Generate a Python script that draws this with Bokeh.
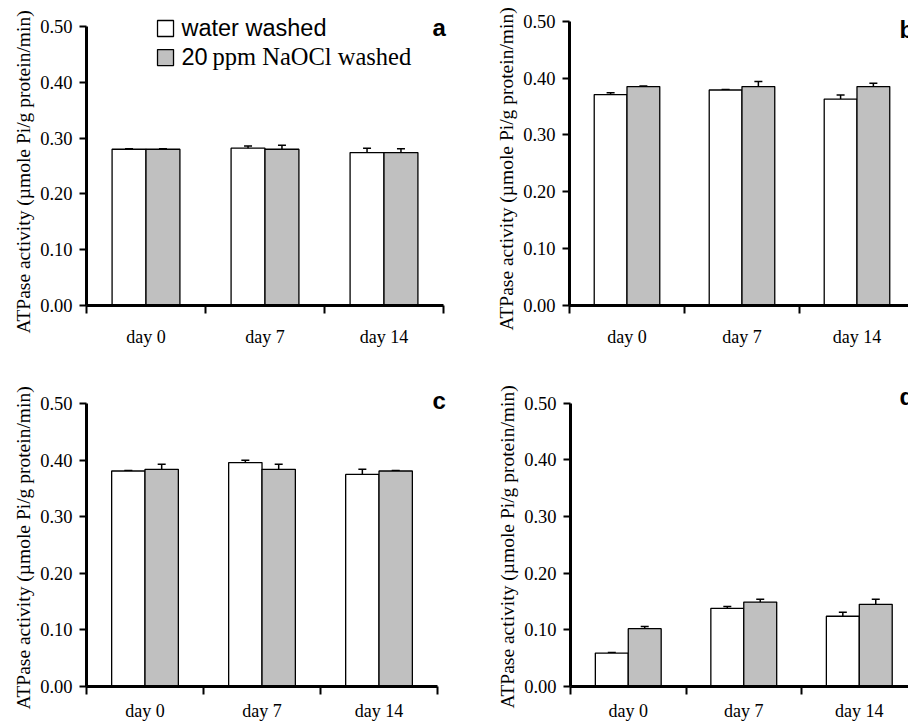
from bokeh.plotting import figure
from bokeh.models import (Range1d, FixedTicker, NumeralTickFormatter, ColumnDataSource,
                          Whisker, TeeHead, Label)
from bokeh.layouts import column, row
from bokeh.embed import file_html
from bokeh.resources import INLINE

# ---------------- data ----------------
categories = ["day 0", "day 7", "day 14"]
y_ticks = [0.0, 0.1, 0.2, 0.3, 0.4, 0.5]
series_names = ["water washed", "20 ppm NaOCl washed"]
y_label = "ATPase activity (\u00b5mole Pi/g protein/min)"

a_water = [0.280, 0.282, 0.274]
a_water_err = [0.001, 0.004, 0.008]
a_naocl = [0.280, 0.280, 0.274]
a_naocl_err = [0.001, 0.007, 0.007]

b_water = [0.371, 0.379, 0.363]
b_water_err = [0.003, 0.001, 0.007]
b_naocl = [0.385, 0.385, 0.385]
b_naocl_err = [0.001, 0.009, 0.006]

c_water = [0.381, 0.396, 0.375]
c_water_err = [0.001, 0.004, 0.009]
c_naocl = [0.384, 0.384, 0.381]
c_naocl_err = [0.009, 0.009, 0.001]

d_water = [0.059, 0.138, 0.124]
d_water_err = [0.001, 0.003, 0.007]
d_naocl = [0.102, 0.149, 0.145]
d_naocl_err = [0.004, 0.005, 0.009]

# ---------------- style ----------------
WHITE = "#FFFFFF"
GREY = "#C0C0C0"
SERIF = "Liberation Serif"
SANS = "Liberation Sans"
BAR_W = 0.285
# distance (in em) from the alphabetic baseline up to the middle of the text box
MID_SANS = 0.3465
MID_SERIF = 0.3375


def text_label(x, y, text, font, size, mid, bold=False):
    """Label whose y is the text baseline (anchored by box middle + offset)."""
    return Label(x=x, y=y, text=text, text_font=font, text_font_size=f"{size}px",
                 text_font_style="bold" if bold else "normal",
                 text_color="black", text_align="left", text_baseline="middle",
                 y_offset=mid * size)


def make_panel(water, water_err, naocl, naocl_err, letter, W, H, bl, br, bt, bb,
               x_end, y_end, letter_xy, title_offset, x_standoff, legend=None):
    p = figure(width=W, height=H, x_range=Range1d(0, x_end), y_range=Range1d(0, y_end),
               output_backend="svg", toolbar_location=None,
               title=y_label, title_location="left",
               min_border_left=bl, min_border_right=br, min_border_top=bt, min_border_bottom=bb)
    p.outline_line_color = None
    p.grid.visible = False
    p.background_fill_color = "white"
    p.border_fill_color = "white"

    # y-axis caption (drawn as a left title so that its start can be placed)
    t = p.title
    t.text_font = SERIF
    t.text_font_size = "19.5px"
    t.text_font_style = "normal"
    t.text_color = "black"
    t.align = "left"
    t.offset = title_offset
    t.standoff = 8

    n = len(categories)
    centers = [i + 0.5 for i in range(n)]
    fills = [WHITE, GREY]
    offsets = [-BAR_W / 2, BAR_W / 2]
    for vals, errs, fill, off in zip([water, naocl], [water_err, naocl_err], fills, offsets):
        src = ColumnDataSource(dict(
            x=[c + off for c in centers],
            top=vals,
            upper=[v + e for v, e in zip(vals, errs)],
            lower=[v - e for v, e in zip(vals, errs)],
        ))
        p.vbar(x="x", top="top", bottom=0, width=BAR_W, source=src,
               fill_color=fill, line_color="black", line_width=1.3)
        p.add_layout(Whisker(source=src, base="x", upper="upper", lower="lower",
                             line_color="black", line_width=1.5,
                             upper_head=TeeHead(size=8, line_color="black", line_width=1.5),
                             lower_head=TeeHead(size=8, line_color="black", line_width=1.5)))

    # x axis: ticks at category boundaries, labels at centers
    xa = p.xaxis[0]
    xa.ticker = FixedTicker(ticks=centers, minor_ticks=list(range(n + 1)))
    xa.major_label_overrides = {c: lab for c, lab in zip(centers, categories)}
    xa.bounds = (0, n)
    xa.major_tick_line_color = None
    xa.major_tick_out = 8
    xa.major_tick_in = 0
    xa.minor_tick_line_color = "black"
    xa.minor_tick_line_width = 2
    xa.minor_tick_out = 8
    xa.minor_tick_in = 0
    xa.axis_line_color = "black"
    xa.axis_line_width = 3
    xa.major_label_standoff = x_standoff
    xa.major_label_text_font = SERIF
    xa.major_label_text_font_size = "18px"
    xa.major_label_text_color = "black"

    ya = p.yaxis[0]
    ya.ticker = FixedTicker(ticks=y_ticks, minor_ticks=[])
    ya.formatter = NumeralTickFormatter(format="0.00")
    ya.bounds = (y_ticks[0], y_ticks[-1])
    ya.major_tick_line_color = "black"
    ya.major_tick_line_width = 2
    ya.major_tick_out = 7
    ya.major_tick_in = 0
    ya.minor_tick_line_color = None
    ya.axis_line_color = "black"
    ya.axis_line_width = 3
    ya.major_label_standoff = 7
    ya.major_label_text_font = SERIF
    ya.major_label_text_font_size = "18.5px"
    ya.major_label_text_color = "black"

    p.add_layout(text_label(letter_xy[0], letter_xy[1], letter, SANS, 24, MID_SANS, bold=True))

    if legend is not None:
        (bx, by1, by2, tx, ty1, ty2, tx2) = legend
        p.scatter(x=[bx, bx], y=[by1, by2], marker="square", size=16,
                  fill_color=fills, line_color="black", line_width=1.3)
        p.add_layout(text_label(tx, ty1, series_names[0], SANS, 23.5, MID_SANS))
        first, rest = series_names[1].split(" ", 1)
        p.add_layout(text_label(tx, ty2, first, SANS, 23.5, MID_SANS))
        p.add_layout(text_label(tx2, ty2, rest, SERIF, 24.5, MID_SERIF))
    return p


pa = make_panel(a_water, a_water_err, a_naocl, a_naocl_err, "a",
                454, 370, 86, 0, 12, 65, 3.0924, 0.5251, (2.908, 0.4839), -28, 13,
                legend=(0.664, 0.4964, 0.4444, 0.798, 0.4821, 0.431, 1.059))
pb = make_panel(b_water, b_water_err, b_naocl, b_naocl_err, "b",
                454, 370, 115, 0, 12, 65, 2.948, 0.5153, (2.870, 0.4713), -25, 13)
pc = make_panel(c_water, c_water_err, c_naocl, c_naocl_err, "c",
                454, 354, 86, 0, 18, 37, 3.145, 0.5269, (2.957, 0.4917), -23, 6)
pd = make_panel(d_water, d_water_err, d_naocl, d_naocl_err, "d",
                454, 354, 116, 0, 18, 38, 2.926, 0.526, (2.848, 0.4977), -22, 6)

layout = column(row(pa, pb), row(pc, pd))
open("out.html", "w").write(file_html(layout, INLINE))
